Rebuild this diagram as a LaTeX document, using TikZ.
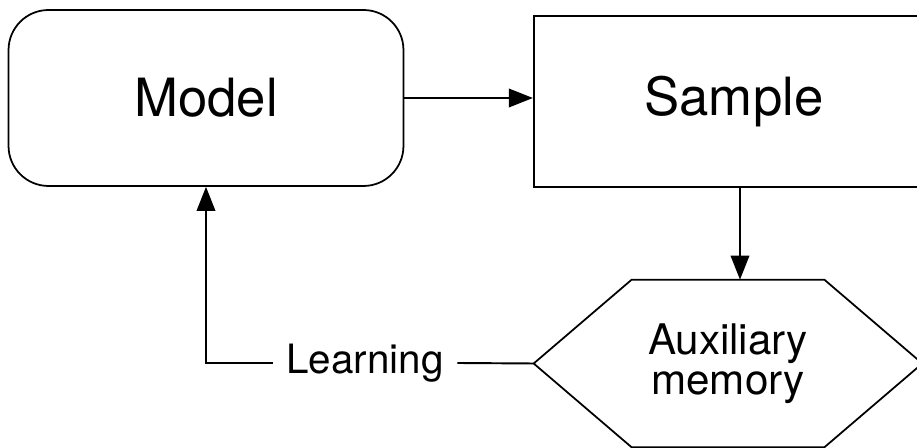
\documentclass[tikz,border=0pt]{standalone}
\usepackage{fontspec}
\setmainfont{TeX Gyre Heros}
\usetikzlibrary{arrows.meta,positioning}

\begin{document}
\begin{tikzpicture}[x=0.02cm, y=-0.02cm,
  box/.style={draw, line width=1pt, minimum width=7.9cm, minimum height=3.52cm,
    font=\fontsize{30}{36}\selectfont},
  link/.style={line width=1.1pt, -{Triangle[length=4.8mm,width=3.7mm]}}]
\clip (0,0) rectangle (917,448);
\node[box, rounded corners=0.8cm] (model) at (206,98) {Model};
\node[box, line width=1.3pt, minimum width=8cm, minimum height=3.42cm] (sample) at (734,101.5) {Sample};
\node[minimum width=7.76cm, minimum height=3.34cm, align=center,
  font=\fontsize{24}{23}\selectfont] (memory) at (728,363.5) {Auxiliary\\memory};
\draw[line width=1pt] (memory.west) -- ([xshift=1.96cm]memory.north west)
  -- ([xshift=-1.96cm]memory.north east) -- (memory.east)
  -- ([xshift=-1.96cm]memory.south east) -- ([xshift=1.96cm]memory.south west) -- cycle;
\node[font=\fontsize{23}{28}\selectfont, inner sep=0.27cm] (learning) at (365,363) {Learning};

\draw[link] (model.east) -- (model.east -| sample.west);
\draw[link] ([xshift=0.12cm]sample.south) -- ([xshift=0.12cm]sample.south |- memory.north);
\draw[line width=1.1pt] (memory.west) -- (learning.east);
\draw[link] (learning.west) -| (model.south);
\end{tikzpicture}
\end{document}
